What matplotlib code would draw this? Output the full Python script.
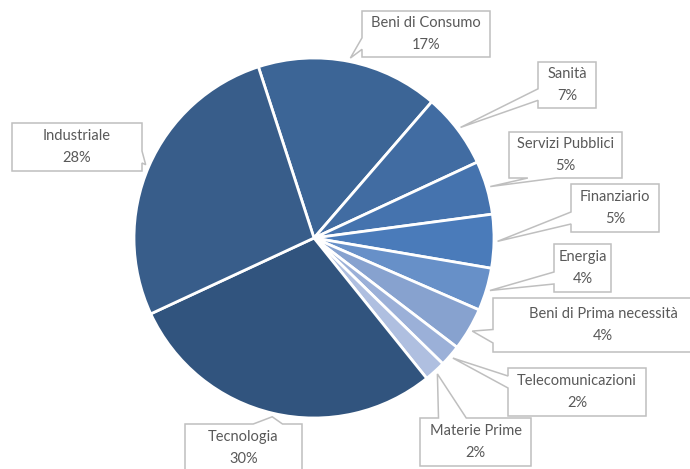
import matplotlib.pyplot as plt
from matplotlib.patches import Polygon
import numpy as np

plt.rcParams['font.family'] = ['Lato', 'DejaVu Sans']

# sector weights (%), listed clockwise from the top
sectors = ['Beni di Consumo', 'Sanità', 'Servizi Pubblici', 'Finanziario', 'Energia',
           'Beni di Prima necessità', 'Telecomunicazioni', 'Materie Prime',
           'Tecnologia', 'Industriale']
shares = [17, 7, 5, 5, 4, 4, 2, 2, 30, 28]
colors = ['#3C6596', '#416CA2', '#4573AE', '#4A7BBA', '#6790C8',
          '#87A2CF', '#9BB0D8', '#AFBFE0', '#31547E', '#385D8A']

# callout boxes in pixel coords (x0, y0, x1, y1), y pointing up
boxes = [(362, 412, 490, 458), (538, 361, 596, 407), (509, 291, 622, 337),
         (571, 237, 659, 285), (554, 177, 611, 225), (493, 117, 713, 171),
         (508, 53, 646, 101), (420, 3, 531, 51), (185, -3, 302, 45),
         (12, 298, 142, 346)]


def callout(box, tip):
    # rectangle with a wedge pointing at tip (Excel style rect callout)
    x0, y0, x1, y1 = box
    tx, ty = tip
    w, h = x1 - x0, y1 - y0
    cx, cy = (x0 + x1) / 2, (y0 + y1) / 2
    dx, dy = (tx - cx) / w, (ty - cy) / h
    if abs(dx) > abs(dy):
        a, b = (y0 + 2 * h / 12, y0 + 5 * h / 12) if ty < cy else (y0 + 7 * h / 12, y0 + 10 * h / 12)
        if dx < 0:
            pts = [(x0, y0), (x1, y0), (x1, y1), (x0, y1), (x0, b), (tx, ty), (x0, a)]
        else:
            pts = [(x0, y0), (x1, y0), (x1, a), (tx, ty), (x1, b), (x1, y1), (x0, y1)]
    else:
        a, b = (x0 + 2 * w / 12, x0 + 5 * w / 12) if tx < cx else (x0 + 7 * w / 12, x0 + 10 * w / 12)
        if dy < 0:
            pts = [(x0, y0), (a, y0), (tx, ty), (b, y0), (x1, y0), (x1, y1), (x0, y1)]
        else:
            pts = [(x0, y0), (x1, y0), (x1, y1), (b, y1), (tx, ty), (a, y1), (x0, y1)]
    return Polygon(pts, closed=True, facecolor='white', edgecolor='#BFBFBF',
                   linewidth=1.1, zorder=3)


fig = plt.figure(figsize=(6.9, 4.69), dpi=100)
ax = fig.add_axes([0, 0, 1, 1])

center = (314, 231)
radius = 180
wedges, _ = ax.pie(shares, colors=colors, startangle=108, counterclock=False,
                   center=center, radius=radius,
                   wedgeprops=dict(edgecolor='white', linewidth=2))

for w, name, share, box in zip(wedges, sectors, shares, boxes):
    mid = np.deg2rad((w.theta1 + w.theta2) / 2)
    tip = (center[0] + radius * 1.02 * np.cos(mid), center[1] + radius * 1.02 * np.sin(mid))
    ax.add_patch(callout(box, tip))
    ax.text((box[0] + box[2]) / 2, (box[1] + box[3]) / 2, f'{name}\n{share}%',
            ha='center', va='center', fontsize=10.5, color='#595959',
            linespacing=1.7, zorder=4)

ax.set_xlim(0, 690)
ax.set_ylim(0, 469)
ax.set_aspect('equal')
ax.axis('off')

plt.savefig('out.png', dpi=100)
plt.close()
